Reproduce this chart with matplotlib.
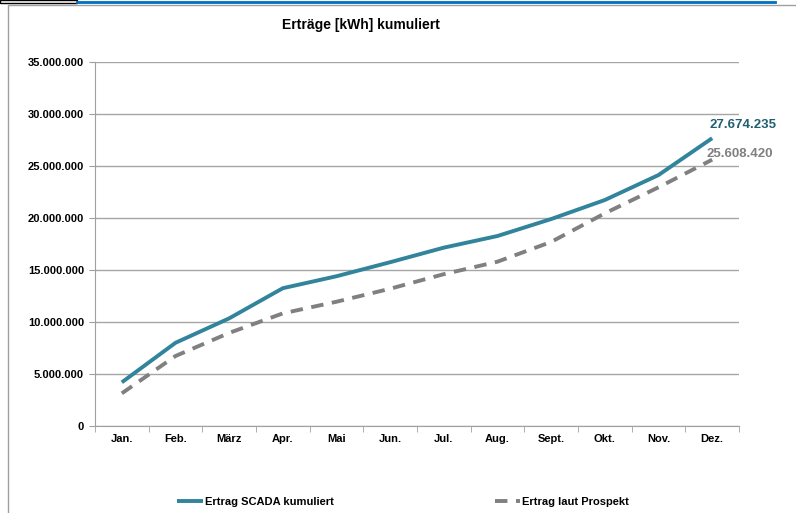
import numpy as np
import matplotlib.pyplot as plt
from matplotlib.ticker import FuncFormatter, MultipleLocator
from matplotlib.lines import Line2D
from matplotlib.patches import Rectangle

plt.rcParams['font.family'] = ['Liberation Sans', 'DejaVu Sans']
plt.rcParams['font.weight'] = 'bold'

# Monate und kumulierte Erträge (kWh)
months = ['Jan.', 'Feb.', 'März', 'Apr.', 'Mai', 'Jun.', 'Jul.', 'Aug.', 'Sept.', 'Okt.', 'Nov.', 'Dez.']
scada = [4200000, 8000000, 10350000, 13250000, 14400000, 15750000,
         17150000, 18270000, 19900000, 21730000, 24130000, 27674235]
prospekt = [3140000, 6730000, 8950000, 10830000, 11950000, 13200000,
            14600000, 15800000, 17700000, 20450000, 22950000, 25608420]

teal = '#31849B'
teal_dark = '#215E6E'
grey = '#808080'

fig = plt.figure(figsize=(7.96, 5.13), dpi=100)
ax = fig.add_axes([95 / 796, 1 - 426 / 513, 644 / 796, 364 / 513])

x = np.arange(len(months))
ax.plot(x, scada, color=teal, lw=2.8, label='Ertrag SCADA kumuliert', solid_capstyle='butt')
ax.plot(x, prospekt, color=grey, lw=2.8, ls=(0, (3.2, 2.2)), label='Ertrag laut Prospekt')

ax.set_xlim(-0.5, len(months) - 0.5)
ax.set_ylim(0, 35000000)
ax.yaxis.set_major_locator(MultipleLocator(5000000))
ax.yaxis.set_major_formatter(FuncFormatter(lambda v, p: f"{int(v):,}".replace(",", ".")))
ax.set_xticks(x)
ax.set_xticklabels(months)
ax.set_xticks(np.arange(-0.5, len(months)), minor=True)
ax.tick_params(axis='x', which='major', length=0, pad=6, labelsize=8)
ax.tick_params(axis='x', which='minor', length=4, color='#A0A0A0', direction='out')
ax.tick_params(axis='y', length=4, color='#A0A0A0', direction='out', labelsize=8, pad=4)
for lbl in ax.get_xticklabels() + ax.get_yticklabels():
    lbl.set_fontweight('bold')

ax.grid(axis='y', color='#A6A6A6', lw=1)
ax.set_axisbelow(True)
for s in ['top', 'right']:
    ax.spines[s].set_visible(False)
for s in ['left', 'bottom']:
    ax.spines[s].set_color('#A0A0A0')

# Endwerte beschriften
ax.annotate(f"{scada[-1]:,}".replace(",", "."), xy=(x[-1], scada[-1]), xytext=(-2, 5),
            textcoords='offset points', color=teal_dark, fontsize=9.5, fontweight='bold',
            ha='left', va='bottom')
ax.annotate(f"{prospekt[-1]:,}".replace(",", "."), xy=(x[-1], prospekt[-1]), xytext=(-4, 0),
            textcoords='offset points', color=grey, fontsize=9.5, fontweight='bold',
            ha='left', va='bottom')

fig.text(361 / 796, 1 - 25 / 513, 'Erträge [kWh] kumuliert', ha='center', va='center',
         fontsize=10, fontweight='bold')

leg = fig.legend(loc='center', bbox_to_anchor=(403 / 796, 1 - 502 / 513), ncol=2,
                 frameon=False, fontsize=8, handlelength=2.3, handletextpad=0.15,
                 columnspacing=14.5)
for t in leg.get_texts():
    t.set_fontweight('bold')

# Rahmen
fig.add_artist(Rectangle((8 / 796, -0.1), 1.2, 1 - 5 / 513 + 0.1, transform=fig.transFigure,
                         fill=False, ec='#A0A0A0', lw=1))
fig.add_artist(Line2D([77 / 796, 775 / 796], [1 - 1.5 / 513] * 2, color='#0070C0', lw=2))
fig.add_artist(Rectangle((0, 1 - 3 / 513), 77 / 796, 3 / 513, transform=fig.transFigure,
                         fill=False, ec='black', lw=1))

fig.savefig('out.png', dpi=100)
